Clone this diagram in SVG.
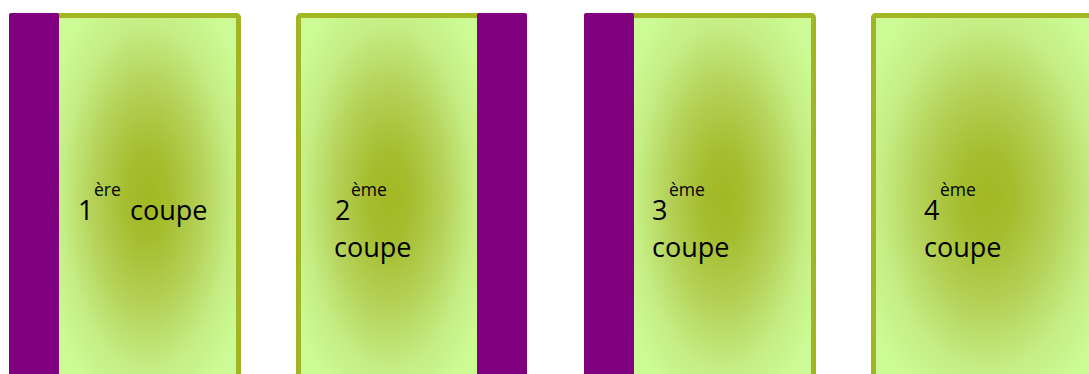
<svg xmlns="http://www.w3.org/2000/svg" width="1089" height="374" viewBox="0 0 1089 374">
  <style>
    .frame { fill: none; stroke: #a2b624; stroke-width: 5; }
    .fill { fill: url(#glow); }
    .band { fill: #800080; }
    .num { font-family: "Open Sans", "Noto Sans", sans-serif; font-size: 27px; fill: #000; }
    .sup { font-family: "Open Sans", "Noto Sans", sans-serif; font-size: 17.5px; fill: #000; }
  </style>
  <defs>
    <radialGradient id="glow" cx="0.5" cy="0.5" r="0.62">
      <stop offset="0" stop-color="#a2b823"/>
      <stop offset="0.2" stop-color="#a6bd2f"/>
      <stop offset="0.5" stop-color="#b5d259"/>
      <stop offset="0.78" stop-color="#c5ee85"/>
      <stop offset="1" stop-color="#ccfa94"/>
    </radialGradient>
  </defs>

  <!-- panel 1: band on the left -->
  <g id="coupe1">
    <rect class="fill" x="59" y="18" width="177" height="358"/>
    <rect class="frame" x="11.5" y="15.5" width="227" height="380" rx="2"/>
    <rect class="band" x="9" y="13" width="50" height="370" rx="2"/>
    <text class="num" x="78" y="220">1</text>
    <text class="sup" x="94" y="196">ère</text>
    <text class="num" x="130" y="220">coupe</text>
  </g>

  <!-- panel 2: band on the right -->
  <g id="coupe2">
    <rect class="fill" x="301" y="18" width="176" height="358"/>
    <rect class="frame" x="298.5" y="15.5" width="226" height="380" rx="2"/>
    <rect class="band" x="477" y="13" width="50" height="370" rx="2"/>
    <text class="num" x="335" y="220">2</text>
    <text class="sup" x="351" y="196">ème</text>
    <text class="num" x="334" y="257">coupe</text>
  </g>

  <!-- panel 3: band on the left -->
  <g id="coupe3">
    <rect class="fill" x="634" y="18" width="177" height="358"/>
    <rect class="frame" x="586.5" y="15.5" width="227" height="380" rx="2"/>
    <rect class="band" x="584" y="13" width="50" height="370" rx="2"/>
    <text class="num" x="652" y="220">3</text>
    <text class="sup" x="669" y="196">ème</text>
    <text class="num" x="652" y="257">coupe</text>
  </g>

  <!-- panel 4: no band -->
  <g id="coupe4">
    <rect class="fill" x="876" y="18" width="222" height="358"/>
    <rect class="frame" x="873.5" y="15.5" width="227" height="380" rx="2"/>
    <text class="num" x="924" y="220">4</text>
    <text class="sup" x="940" y="196">ème</text>
    <text class="num" x="924" y="257">coupe</text>
  </g>

  <g id="connectors"/>
</svg>
